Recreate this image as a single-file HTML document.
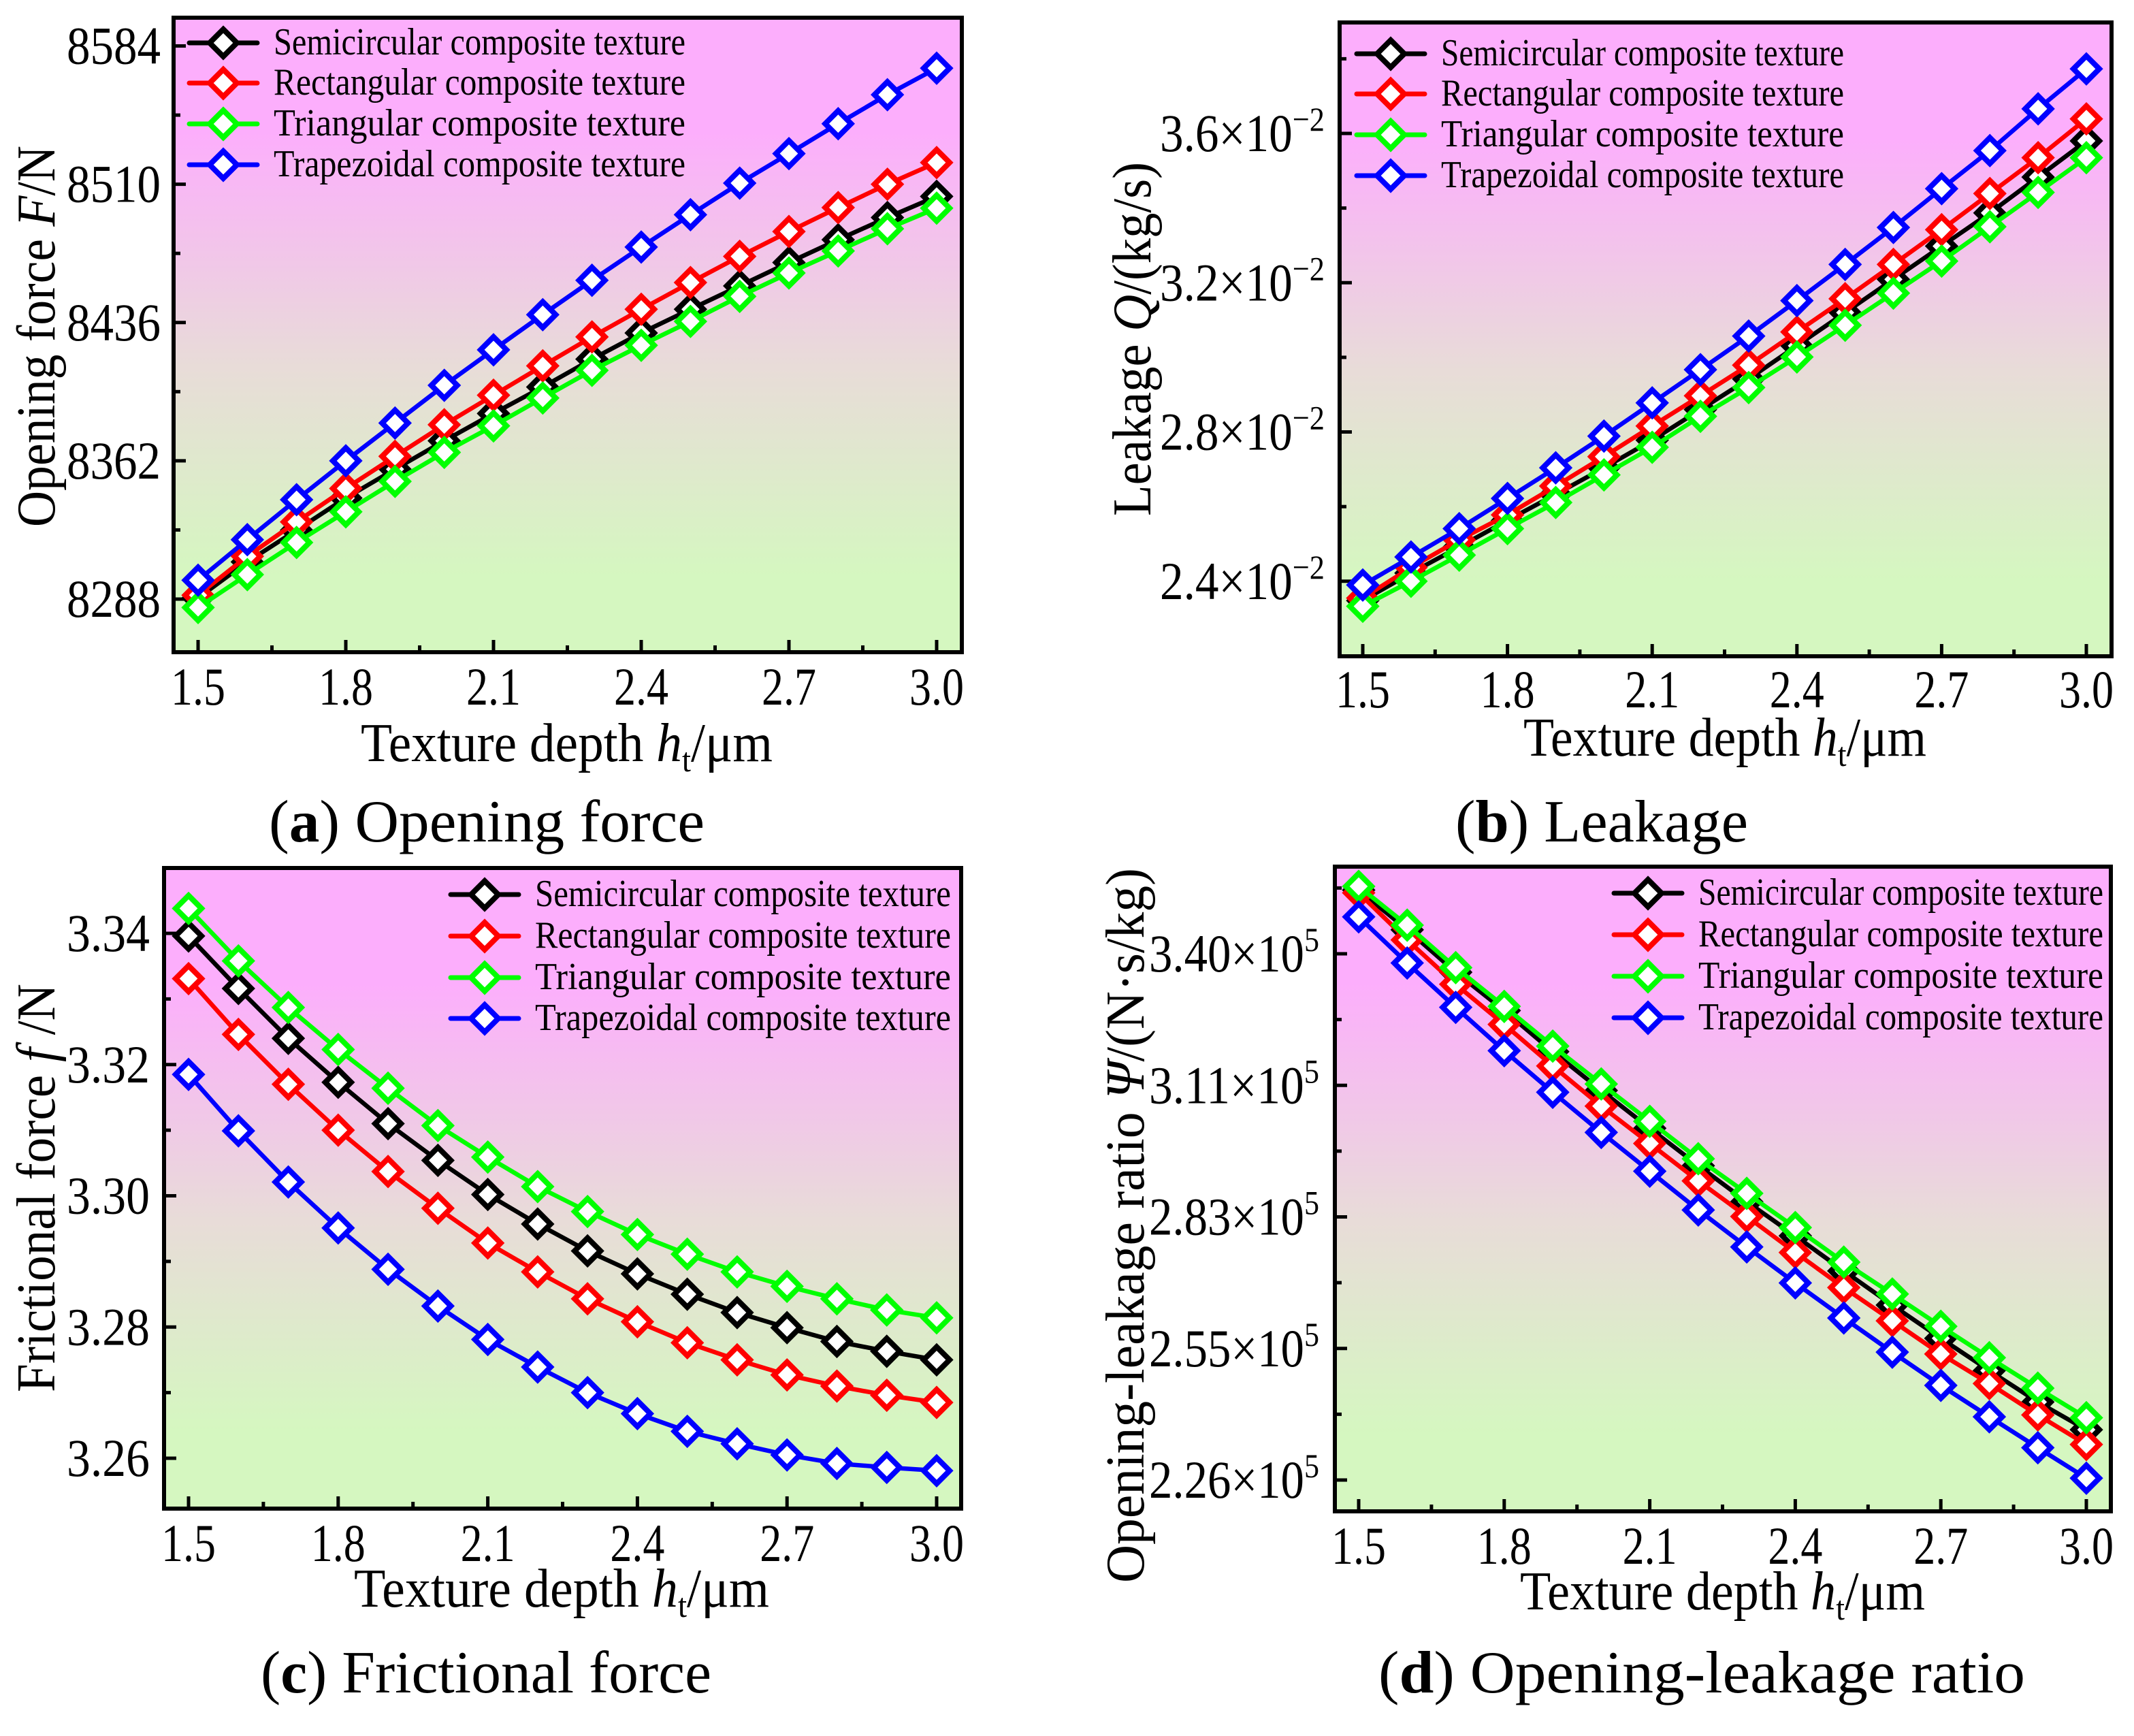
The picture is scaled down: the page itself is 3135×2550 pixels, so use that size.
<!DOCTYPE html>
<html><head><meta charset="utf-8"><style>
html,body{margin:0;padding:0;background:#fff;}
svg{display:block;font-family:"Liberation Serif","DejaVu Serif",serif;}
</style></head><body>
<svg id="fig" width="3135" height="2550" viewBox="0 0 3135 2550" xmlns="http://www.w3.org/2000/svg">
<defs>
<linearGradient id="bg" x1="0" y1="0" x2="0" y2="1">
<stop offset="0.18" stop-color="#fcaefc"/>
<stop offset="0.55" stop-color="#e8dcd8"/>
<stop offset="0.88" stop-color="#d5f7c0"/>
</linearGradient>
</defs>
</svg>
<script>
const xDepth = [1.5,1.6,1.7,1.8,1.9,2.0,2.1,2.2,2.3,2.4,2.5,2.6,2.7,2.8,2.9,3.0];
const seriesNames = ["Semicircular composite texture","Rectangular composite texture","Triangular composite texture","Trapezoidal composite texture"];
const seriesColors = ["#000000","#ff0000","#00ff00","#0000ff"];
const xTicks = [1.5,1.8,2.1,2.4,2.7,3.0];
const xTickLabels = ["1.5","1.8","2.1","2.4","2.7","3.0"];

// (a) opening force
const forceSemi = [8288.6,8307.9,8324.9,8342.1,8357.5,8372.7,8387.3,8401.5,8416.4,8430.4,8443.1,8455.6,8468.1,8480.3,8492.2,8503.5];
const forceRect = [8290.1,8310.9,8329.3,8347.2,8364.4,8381.3,8397.1,8412.8,8428.3,8443.1,8457.4,8471.4,8484.7,8497.5,8510.0,8521.6];
const forceTri  = [8283.5,8301.1,8318.3,8334.7,8351.0,8366.5,8380.7,8395.6,8410.4,8423.8,8436.6,8450.0,8462.5,8474.3,8486.2,8497.2];
const forceTrap = [8298.1,8319.8,8341.2,8362.0,8382.2,8402.4,8421.4,8440.2,8458.6,8476.4,8493.7,8510.6,8526.4,8542.4,8557.9,8572.1];
const forceTicks = [8288,8362,8436,8510,8584];

// (b) leakage (x1e-2 kg/s)
const leakSemi = [2.348,2.422,2.492,2.563,2.633,2.704,2.778,2.860,2.942,3.031,3.120,3.209,3.298,3.387,3.483,3.580];
const leakRect = [2.355,2.437,2.511,2.578,2.655,2.734,2.816,2.897,2.979,3.068,3.157,3.249,3.342,3.439,3.535,3.639];
const leakTri  = [2.333,2.400,2.470,2.541,2.611,2.685,2.759,2.842,2.919,3.001,3.086,3.172,3.258,3.350,3.442,3.535];
const leakTrap = [2.390,2.465,2.541,2.622,2.704,2.789,2.878,2.967,3.057,3.152,3.249,3.348,3.452,3.554,3.666,3.773];
const leakTicks = [2.4,2.8,3.2,3.6];
const leakTickLabels = ["2.4","2.8","3.2","3.6"];

// (c) frictional force
const fricSemi = [3.3396,3.3316,3.3240,3.3173,3.3110,3.3054,3.3002,3.2957,3.2916,3.2881,3.2850,3.2822,3.2799,3.2778,3.2763,3.2750];
const fricRect = [3.3331,3.3246,3.3170,3.3100,3.3037,3.2981,3.2928,3.2884,3.2843,3.2808,3.2776,3.2750,3.2727,3.2710,3.2696,3.2685];
const fricTri  = [3.3438,3.3358,3.3287,3.3223,3.3164,3.3107,3.3059,3.3014,3.2976,3.2941,3.2911,3.2884,3.2862,3.2843,3.2826,3.2814];
const fricTrap = [3.3185,3.3099,3.3021,3.2951,3.2888,3.2832,3.2781,3.2739,3.2700,3.2668,3.2641,3.2622,3.2605,3.2592,3.2586,3.2581];
const fricTicks = [3.26,3.28,3.30,3.32,3.34];
const fricTickLabels = ["3.26","3.28","3.30","3.32","3.34"];

// (d) opening-leakage ratio (x1e5)
const ratioSemi = [3.538,3.452,3.360,3.277,3.188,3.104,3.022,2.941,2.863,2.789,2.713,2.639,2.567,2.497,2.429,2.369];
const ratioRect = [3.532,3.430,3.334,3.247,3.157,3.070,2.989,2.908,2.831,2.753,2.677,2.605,2.533,2.469,2.401,2.337];
const ratioTri  = [3.546,3.462,3.370,3.286,3.200,3.118,3.037,2.956,2.881,2.807,2.732,2.663,2.593,2.525,2.459,2.395];
const ratioTrap = [3.480,3.380,3.284,3.190,3.100,3.013,2.929,2.845,2.765,2.687,2.611,2.537,2.465,2.397,2.330,2.264];
const ratioTicks = [2.26,2.545,2.83,3.115,3.40];
const ratioTickLabels = ["2.26","2.55","2.83","3.11","3.40"];

const NS = "http://www.w3.org/2000/svg";
const svg = document.getElementById("fig");
function mk(tag, attrs, parent) {
  const e = document.createElementNS(NS, tag);
  for (const k in attrs) e.setAttribute(k, attrs[k]);
  (parent || svg).appendChild(e);
  return e;
}

function panel(cfg) {
  const g = mk("g", {});
  
  
  const [L, T, R, B] = cfg.box;
  const xs = v => cfg.x0px + (v - 1.5) / 1.5 * (cfg.x1px - cfg.x0px);
  const ys = v => cfg.ylo.px + (v - cfg.ylo.v) / (cfg.yhi.v - cfg.ylo.v) * (cfg.yhi.px - cfg.ylo.px);

  const bg = mk("rect", {x: L, y: T, width: R - L, height: B - T, fill: "url(#bg)"}, g);
  
  

  xTicks.forEach((t, i) => {
    const x = xs(t);
    const tk = mk("line", {x1: x, x2: x, y1: B, y2: B - 18, stroke: "#000", "stroke-width": 5}, g);
    
    
    if (i < xTicks.length - 1) {
      const xm = xs(t + 0.15);
      const mt = mk("line", {x1: xm, x2: xm, y1: B, y2: B - 10, stroke: "#000", "stroke-width": 5}, g);
      
      
    }
    const lb = mk("text", {x: x, y: cfg.xLabY, "text-anchor": "middle", "font-size": 78, textLength: 80, lengthAdjust: "spacingAndGlyphs"}, g);
    lb.textContent = xTickLabels[i];
    
    
  });

  cfg.yTicks.forEach((t, i) => {
    const y = ys(t);
    const tk = mk("line", {x1: L, x2: L + 18, y1: y, y2: y, stroke: "#000", "stroke-width": 5}, g);
    
    
    const lb = mk("text", {x: cfg.yLabL, y: y + 26, "font-size": 78, textLength: cfg.yLabW, lengthAdjust: "spacingAndGlyphs"}, g);
    if (cfg.exp) {
      const m = mk("tspan", {}, lb);
      m.textContent = cfg.yTickLabels[i] + "×10";
      const s = mk("tspan", {dy: -30, "font-size": 50}, lb);
      s.textContent = cfg.exp;
    } else {
      lb.textContent = cfg.yTickLabels[i];
    }
    
    
  });
  cfg.yMinor.forEach(t => {
    const y = ys(t);
    if (y < T + 4 || y > B - 4) return;
    const mt = mk("line", {x1: L, x2: L + 10, y1: y, y2: y, stroke: "#000", "stroke-width": 5}, g);
    
    
  });

  cfg.series.forEach((arr, si) => {
    const sg = mk("g", {}, g);
    
    
    const pts = arr.map((v, i) => xs(xDepth[i]).toFixed(1) + "," + ys(v).toFixed(1)).join(" ");
    const pl = mk("polyline", {points: pts, fill: "none", stroke: seriesColors[si], "stroke-width": 6.5, "stroke-linejoin": "round"}, sg);
    
    
    arr.forEach((v, i) => {
      const cx = xs(xDepth[i]), cy = ys(v), r = 19;
      const d = mk("polygon", {points: `${cx},${cy-r} ${cx+r},${cy} ${cx},${cy+r} ${cx-r},${cy}`, fill: "#fff", stroke: seriesColors[si], "stroke-width": 8}, sg);
      
      
    });
  });

  const fr = mk("rect", {x: L, y: T, width: R - L, height: B - T, fill: "none", stroke: "#000", "stroke-width": 6}, g);
  
  

  const lg = mk("g", {}, g);
  
  
  seriesNames.forEach((nm, si) => {
    const y = cfg.leg.ys[si], lx = cfg.leg.x;
    const e = mk("g", {}, lg);
    
    
    mk("line", {x1: lx, x2: lx + 100, y1: y, y2: y, stroke: seriesColors[si], "stroke-width": 7, "stroke-linecap": "round"}, e);
    const cx = lx + 50, r = 20;
    mk("polygon", {points: `${cx},${y-r} ${cx+r},${y} ${cx},${y+r} ${cx-r},${y}`, fill: "#fff", stroke: seriesColors[si], "stroke-width": 8}, e);
    const t = mk("text", {x: lx + 124, y: y + 17, "font-size": 56, textLength: cfg.leg.w, lengthAdjust: "spacingAndGlyphs"}, e);
    t.textContent = nm;
  });

  const xt = mk("text", {x: cfg.xTitle.x, y: cfg.xTitle.y, "font-size": 80, textLength: cfg.xTitle.w, lengthAdjust: "spacingAndGlyphs"}, g);
  
  
  const a = mk("tspan", {}, xt); a.textContent = "Texture depth ";
  const b = mk("tspan", {"font-style": "italic"}, xt); b.textContent = "h";
  const c = mk("tspan", {"font-size": 50, dy: 15}, xt); c.textContent = "t";
  const d = mk("tspan", {dy: -15}, xt); d.textContent = "/μm";

  const yt = mk("text", {x: 0, y: 0, "text-anchor": "middle", "font-size": 80, textLength: cfg.yTitle.len, lengthAdjust: "spacingAndGlyphs",
    transform: `translate(${cfg.yTitle.x},${cfg.yTitle.cy}) rotate(-90)`}, g);
  
  
  cfg.yTitle.parts.forEach(p => {
    const s = mk("tspan", p[1] ? {"font-style": "italic"} : {}, yt);
    s.textContent = p[0];
  });

  const cp = mk("text", {x: cfg.cap.x, y: cfg.cap.y, "font-size": 88, textLength: cfg.cap.w, lengthAdjust: "spacingAndGlyphs"}, g);
  
  
  const c1 = mk("tspan", {}, cp); c1.textContent = "(";
  const c2 = mk("tspan", {"font-weight": "bold"}, cp); c2.textContent = cfg.cap.letter;
  const c3 = mk("tspan", {}, cp); c3.textContent = ") " + cfg.cap.text;
}

panel({
  name: "panel-a-opening-force", box: [255, 26, 1413, 958], x0px: 291, x1px: 1376,
  ylo: {v: 8288, px: 880}, yhi: {v: 8584, px: 67.5},
  yTicks: forceTicks, yTickLabels: forceTicks.map(String), yMinor: [8251, 8325, 8399, 8473, 8547, 8621],
  yLabL: 98, yLabW: 138, xLabY: 1035,
  series: [forceSemi, forceRect, forceTri, forceTrap],
  leg: {x: 278, ys: [63, 122, 182, 242], w: 605},
  xTitle: {x: 530, y: 1118, w: 605},
  yTitle: {x: 80, cy: 494, len: 560, parts: [["Opening force ", false], ["F", true], ["/N", false]]},
  cap: {x: 395, y: 1236, w: 640, letter: "a", text: "Opening force"}
});
panel({
  name: "panel-b-leakage", box: [1968, 33, 3102, 964], x0px: 2002, x1px: 3065,
  ylo: {v: 2.4, px: 853.8}, yhi: {v: 3.6, px: 196},
  yTicks: leakTicks, yTickLabels: leakTickLabels, yMinor: [2.2, 2.6, 3.0, 3.4, 3.8], exp: "−2",
  yLabL: 1704, yLabW: 242, xLabY: 1039,
  series: [leakSemi, leakRect, leakTri, leakTrap],
  leg: {x: 1993, ys: [79, 138, 198, 258], w: 592},
  xTitle: {x: 2238, y: 1110, w: 592},
  yTitle: {x: 1690, cy: 498, len: 520, parts: [["Leakage ", false], ["Q", true], ["/(kg/s)", false]]},
  cap: {x: 2138, y: 1236, w: 430, letter: "b", text: "Leakage"}
});
panel({
  name: "panel-c-frictional-force", box: [241, 1275, 1412, 2216], x0px: 277, x1px: 1376,
  ylo: {v: 3.26, px: 2142}, yhi: {v: 3.34, px: 1371},
  yTicks: fricTicks, yTickLabels: fricTickLabels, yMinor: [3.25, 3.27, 3.29, 3.31, 3.33, 3.35],
  yLabL: 98, yLabW: 122, xLabY: 2293,
  series: [fricSemi, fricRect, fricTri, fricTrap],
  leg: {x: 662, ys: [1314, 1375, 1436, 1496], w: 611},
  xTitle: {x: 520, y: 2360, w: 610},
  yTitle: {x: 80, cy: 1745, len: 600, parts: [["Frictional force ", false], ["f", true], [" /N", false]]},
  cap: {x: 383, y: 2486, w: 662, letter: "c", text: "Frictional force"}
});
panel({
  name: "panel-d-opening-leakage-ratio", box: [1961, 1273, 3101, 2220], x0px: 1996, x1px: 3065,
  ylo: {v: 2.26, px: 2174}, yhi: {v: 3.40, px: 1401},
  yTicks: ratioTicks, yTickLabels: ratioTickLabels, yMinor: [2.4025, 2.6875, 2.9725, 3.2575, 3.5425], exp: "5",
  yLabL: 1688, yLabW: 250, xLabY: 2297,
  series: [ratioSemi, ratioRect, ratioTri, ratioTrap],
  leg: {x: 2371, ys: [1312, 1373, 1434, 1495], w: 595},
  xTitle: {x: 2233, y: 2364, w: 595},
  yTitle: {x: 1680, cy: 1800, len: 1050, parts: [["Opening-leakage ratio  ", false], ["Ψ", true], ["/(N·s/kg)", false]]},
  cap: {x: 2025, y: 2486, w: 950, letter: "d", text: "Opening-leakage ratio"}
});
</script>
</body></html>
